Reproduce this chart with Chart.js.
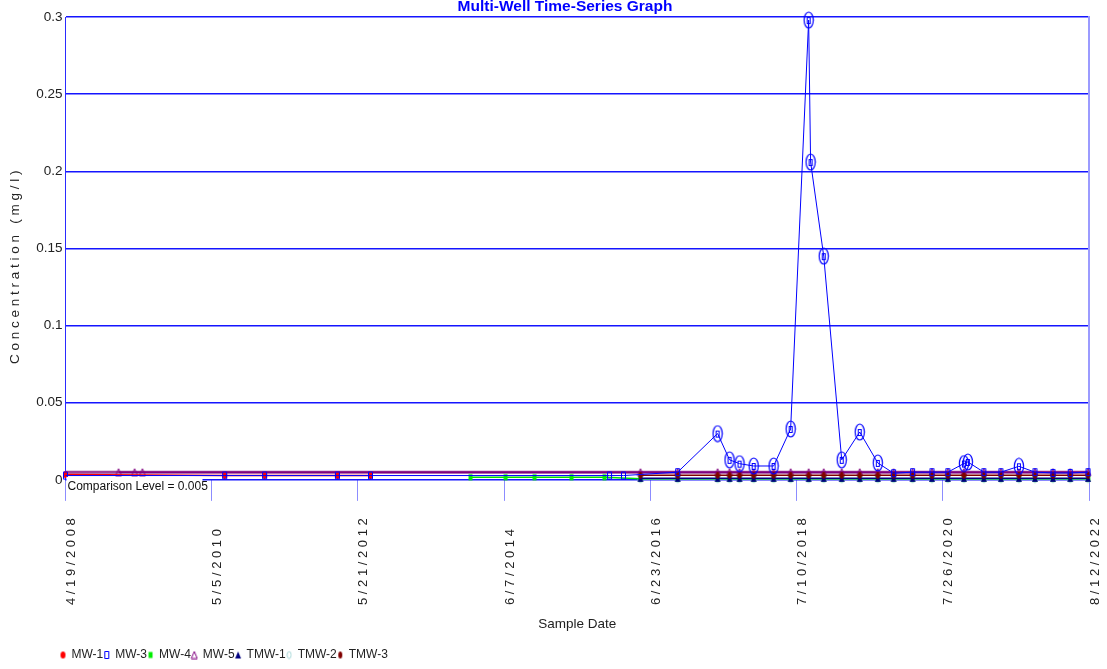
<!DOCTYPE html>
<html>
<head>
<meta charset="utf-8">
<title>Multi-Well Time-Series Graph</title>
<script src="https://cdn.jsdelivr.net/npm/chart.js@4.4.1/dist/chart.umd.min.js"></script>
<style>
  html, body { margin: 0; padding: 0; background: #fff; }
  #wrap { width: 1107px; height: 669px; position: relative; }
</style>
</head>
<body>
<div id="wrap"><canvas id="chartPozos"></canvas></div>
<script>
// --- datos ---
const xTickLabels = ['4/19/2008', '5/5/2010', '5/21/2012', '6/7/2014', '6/23/2016', '7/10/2018', '7/26/2020', '8/12/2022'];
const yTicks = [0, 0.05, 0.1, 0.15, 0.2, 0.25, 0.3];
const COMPARISON_LEVEL = 0.005;

// fechas de muestreo compartidas (2016 en adelante)
const lateDates = ['2016-05-04', '2016-11-10', '2017-06-02', '2017-08-02', '2017-09-22', '2017-12-03', '2018-03-15',
  '2018-06-10', '2018-09-10', '2018-11-26', '2019-02-26', '2019-05-29', '2019-08-29', '2019-11-18', '2020-02-23',
  '2020-06-01', '2020-08-21', '2020-11-11', '2021-02-21', '2021-05-19', '2021-08-19', '2021-11-09', '2022-02-09',
  '2022-05-08', '2022-08-07'];

const mw1Dates = ['2008-04-19', '2010-07-11', '2011-01-31', '2012-02-07', '2012-07-25'];
const mw1Values = [0.0035, 0.0028, 0.0028, 0.0028, 0.0028];

const mw3Dates = ['2008-04-19', '2010-07-11', '2011-01-31', '2012-02-07', '2012-07-25', '2015-11-28', '2016-02-07',
  '2016-11-10', '2017-06-02', '2017-08-02', '2017-09-22', '2017-12-03', '2018-03-15', '2018-06-10', '2018-09-10',
  '2018-09-20', '2018-11-26', '2019-02-26', '2019-05-29', '2019-08-29', '2019-11-18', '2020-02-23', '2020-06-01',
  '2020-08-21', '2020-11-11', '2020-12-01', '2021-02-21', '2021-05-19', '2021-08-19', '2021-11-09', '2022-02-09',
  '2022-05-08', '2022-08-07'];
const mw3Values = [0.0028, 0.0028, 0.0028, 0.0028, 0.0028, 0.0028, 0.0028,
  0.005, 0.030, 0.013, 0.0105, 0.009, 0.009, 0.033, 0.298,
  0.206, 0.145, 0.013, 0.031, 0.011, 0.0043, 0.005, 0.005,
  0.005, 0.0106, 0.0116, 0.005, 0.005, 0.0088, 0.005, 0.0045,
  0.0045, 0.005];

const mw4Dates = ['2013-12-18', '2014-06-15', '2014-11-10', '2015-05-18', '2015-11-02', ...lateDates];
const mw4Values = [0.0017, 0.0017, 0.0017, 0.0017, 0.0017,
  0.0008, 0.0008, 0.0008, 0.0008, 0.0008, 0.0008, 0.0008, 0.0008, 0.0008, 0.0008, 0.0008, 0.0008, 0.0008,
  0.0008, 0.0008, 0.0008, 0.0008, 0.0008, 0.0008, 0.0008, 0.0008, 0.0008, 0.0008, 0.0008, 0.0008];

const mw5Dates = ['2009-01-15', '2009-04-07', '2009-05-17', ...lateDates];
const mw5Values = [0.005, 0.005, 0.005,
  0.005, 0.005, 0.005, 0.005, 0.005, 0.005, 0.005, 0.005, 0.005, 0.005, 0.005, 0.005, 0.005,
  0.005, 0.005, 0.005, 0.005, 0.005, 0.005, 0.005, 0.005, 0.005, 0.005, 0.005, 0.005];

const tmw1Values = [0.001, 0.001, 0.001, 0.001, 0.001, 0.001, 0.001, 0.001, 0.001, 0.001, 0.001, 0.001, 0.001,
  0.001, 0.001, 0.001, 0.001, 0.001, 0.001, 0.001, 0.001, 0.001, 0.001, 0.001, 0.001];
const tmw2Values = [0.0005, 0.0005, 0.0005, 0.0005, 0.0005, 0.0005, 0.0005, 0.0005, 0.0005, 0.0005, 0.0005, 0.0005, 0.0005,
  0.0005, 0.0005, 0.0005, 0.0005, 0.0005, 0.0005, 0.0005, 0.0005, 0.0005, 0.0005, 0.0005, 0.0005];
const tmw3Values = [0.003, 0.003, 0.003, 0.003, 0.003, 0.003, 0.003, 0.003, 0.003, 0.003, 0.003, 0.003, 0.003,
  0.003, 0.003, 0.003, 0.003, 0.003, 0.003, 0.003, 0.003, 0.003, 0.003, 0.003, 0.003];

// --- utilidades ---
const FONT = '"Liberation Sans", Arial, sans-serif';
const toUTC = s => { const [m, d, y] = s.split('/').map(Number); return Date.UTC(y, m - 1, d); };
const spaced = s => s.split('').join(' ');

// marcadores dibujados en un canvas pequeño (el original esta estirado en vertical)
function marker(shape, color, filled, w, h) {
  const c = document.createElement('canvas');
  c.width = w + 2; c.height = h + 2;
  const g = c.getContext('2d');
  g.strokeStyle = color; g.fillStyle = color; g.lineWidth = 1;
  g.beginPath();
  if (shape === 'ellipse') g.ellipse(c.width / 2, c.height / 2, w / 2, h / 2, 0, 0, Math.PI * 2);
  else if (shape === 'rect') g.rect(1.5, 1.5, w - 1, h - 1);
  else { g.moveTo(c.width / 2, 1); g.lineTo(w + 1, h + 1); g.lineTo(1, h + 1); g.closePath(); }
  filled ? g.fill() : g.stroke();
  return c;
}

// MW-3: cuadro normal y cuadro con elipse cuando supera el nivel de comparacion
const mw3Mark = marker('rect', '#0000ff', false, 5, 8);
const mw3Hit = (() => {
  const c = document.createElement('canvas');
  c.width = 12; c.height = 18;
  const g = c.getContext('2d');
  g.strokeStyle = '#0000ff'; g.lineWidth = 1.2;
  g.beginPath(); g.ellipse(6, 9, 4.6, 8, 0, 0, Math.PI * 2); g.stroke();
  g.lineWidth = 1;
  g.strokeRect(4.5, 6.5, 3, 6);
  return c;
})();

function serie(label, dates, values, color, style, order, width) {
  return {
    label, order,
    data: dates.map((d, i) => ({ x: Date.parse(d), y: values[i] })),
    borderColor: color,
    backgroundColor: color,
    borderWidth: width,
    pointStyle: style,
    pointRadius: 4,
    pointHoverRadius: 4,
    tension: 0,
    clip: false
  };
}

const datasets = [
  serie('MW-1', mw1Dates, mw1Values, '#ff0000', marker('ellipse', '#ff0000', true, 5, 7), 4, 1.5),
  serie('MW-3', mw3Dates, mw3Values, '#0000ff', ctx => (ctx.raw && ctx.raw.y > COMPARISON_LEVEL ? mw3Hit : mw3Mark), 1, 1),
  serie('MW-4', mw4Dates, mw4Values, '#00e000', marker('rect', '#00ee00', true, 5, 7), 5, 1.5),
  serie('MW-5', mw5Dates, mw5Values, '#800080', marker('triangle', '#800080', false, 6, 7), 6, 1.5),
  serie('TMW-1', lateDates, tmw1Values, '#000080', marker('triangle', '#000080', true, 6, 7), 3, 1.5),
  serie('TMW-2', lateDates, tmw2Values, '#a8d8d8', marker('ellipse', '#a8d8d8', false, 4, 7), 7, 1),
  serie('TMW-3', lateDates, tmw3Values, '#800000', marker('ellipse', '#800000', true, 4, 7), 2, 1.5),
  {
    label: 'Comparison Level', order: 10,
    data: [{ x: toUTC(xTickLabels[0]), y: COMPARISON_LEVEL }, { x: toUTC(xTickLabels[xTickLabels.length - 1]), y: COMPARISON_LEVEL }],
    borderColor: '#9a409a', borderWidth: 3, pointRadius: 0, clip: false
  }
];

// titulo, recuadro del nivel de comparacion y posicion de la leyenda
const decorPlugin = {
  id: 'decor',
  afterLayout(chart) {
    chart.legend.left = chart.chartArea.left - 6;
    chart.legend.top += 3;
  },
  afterDatasetsDraw(chart) {
    const { ctx, chartArea, scales } = chart;
    const y0 = scales.y.getPixelForValue(0);
    ctx.save();
    ctx.fillStyle = '#ffffff';
    ctx.fillRect(chartArea.left + 1, y0 - 3, 136, 24);
    ctx.fillStyle = '#111111';
    ctx.font = '12px ' + FONT;
    ctx.textBaseline = 'alphabetic';
    ctx.fillText('Comparison Level = ' + COMPARISON_LEVEL, chartArea.left + 2, y0 + 10);
    ctx.restore();
  },
  afterDraw(chart) {
    const { ctx } = chart;
    ctx.save();
    ctx.fillStyle = '#0000ff';
    ctx.font = 'bold 15.5px ' + FONT;
    ctx.textAlign = 'center';
    ctx.textBaseline = 'alphabetic';
    ctx.fillText('Multi-Well Time-Series Graph', 565, 11);
    ctx.restore();
  }
};

const longest = Math.max(...xTickLabels.map(s => s.length));

Chart.defaults.font.family = FONT;
Chart.defaults.font.size = 13.5;

new Chart(document.getElementById('chartPozos').getContext('2d'), {
  type: 'line',
  data: { datasets },
  plugins: [decorPlugin],
  options: {
    responsive: true,
    maintainAspectRatio: false,
    animation: false,
    events: [],
    devicePixelRatio: 1,
    layout: { padding: { top: 17, left: 1, right: 10, bottom: 1 } },
    plugins: {
      title: { display: false },
      tooltip: { enabled: false },
      legend: {
        position: 'bottom',
        align: 'start',
        labels: {
          usePointStyle: true,
          boxWidth: 5,
          boxHeight: 7,
          padding: 1,
          color: '#222',
          font: { size: 12 },
          filter: item => item.text !== 'Comparison Level',
          sort: (a, b) => a.datasetIndex - b.datasetIndex
        }
      }
    },
    scales: {
      x: {
        type: 'linear',
        min: toUTC(xTickLabels[0]),
        max: toUTC(xTickLabels[xTickLabels.length - 1]),
        afterBuildTicks: s => { s.ticks = xTickLabels.map(l => ({ value: toUTC(l) })); },
        afterFit: s => { s.paddingRight = 0; },
        ticks: {
          autoSkip: false,
          minRotation: 90,
          maxRotation: 90,
          padding: 17.4,
          labelOffset: 6,
          color: '#222',
          font: { size: 13 },
          // etiquetas espaciadas; se rellenan para alinearlas por abajo
          callback: (v, i) => spaced(xTickLabels[i]) + '   '.repeat(longest - xTickLabels[i].length)
        },
        grid: { drawOnChartArea: false, tickLength: 21, color: '#8c8cff', lineWidth: 1 },
        border: { display: false },
        title: { display: true, text: 'Sample Date', color: '#222', padding: { top: -6.6, bottom: 13 } }
      },
      y: {
        min: 0,
        max: 0.3,
        afterBuildTicks: s => { s.ticks = yTicks.map(v => ({ value: v })); },
        ticks: { padding: 3, color: '#222', callback: v => String(+v.toFixed(2)) },
        grid: { color: '#1515ff', lineWidth: 1.5, drawTicks: false },
        border: { color: '#2a2aff', width: 1 },
        title: {
          display: true,
          // espacios finales para bajar el texto como en el original
          text: spaced('Concentration') + '   ' + spaced('(mg/l)') + '          ',
          color: '#222',
          padding: { top: 6, bottom: 10 }
        }
      },
      yRight: {
        position: 'right',
        min: 0,
        max: 0.3,
        ticks: { display: false },
        grid: { display: false },
        border: { color: '#9b9bff', width: 2 }
      }
    }
  }
});
</script>
</body>
</html>
